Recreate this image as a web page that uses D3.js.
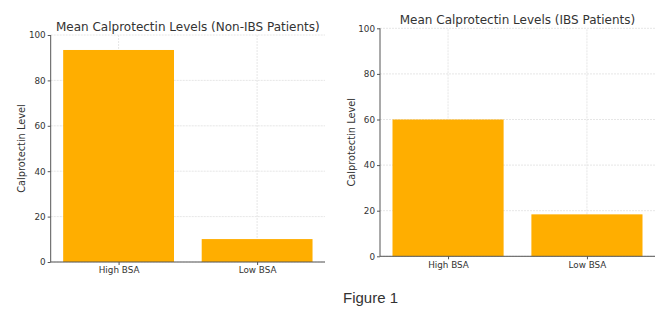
<!DOCTYPE html>
<html><head><meta charset="utf-8">
<script src="https://cdn.jsdelivr.net/npm/d3@7"></script>
<style>body{margin:0;background:#fff}svg{display:block}</style>
</head><body>
<svg id="c" width="672" height="322"></svg>
<script>
const categories = ["High BSA", "Low BSA"];
const nonIbsValues = [93.4, 10.1];
const ibsValues = [60.0, 18.4];
const yTicks = [0, 20, 40, 60, 80, 100];
const titles = ["Mean Calprotectin Levels (Non-IBS Patients)", "Mean Calprotectin Levels (IBS Patients)"];
const yLabel = "Calprotectin Level";
const caption = "Figure 1";

const svg = d3.select("#c");
const font = "DejaVu Sans, sans-serif";
const barColor = "#ffae00";

function panel(cfg, values, title) {
  const g = svg.append("g");
  const x = d3.scaleLinear().domain([-0.49, 1.49]).range([cfg.x0, cfg.x1]);
  const y = d3.scaleLinear().domain([0, 100]).range([cfg.y0, cfg.y1]);
  g.selectAll(".hg").data(yTicks).join("line")
    .attr("x1", cfg.x0).attr("x2", cfg.x1)
    .attr("y1", d => y(d)).attr("y2", d => y(d))
    .attr("stroke", "#e0e0e0").attr("stroke-width", 0.8).attr("stroke-dasharray", "2,1");
  g.selectAll(".vg").data(categories).join("line")
    .attr("x1", (d, i) => x(i)).attr("x2", (d, i) => x(i))
    .attr("y1", cfg.y0).attr("y2", cfg.y1)
    .attr("stroke", "#e0e0e0").attr("stroke-width", 0.8).attr("stroke-dasharray", "2,1");
  g.selectAll("rect").data(values).join("rect")
    .attr("x", (d, i) => x(i - 0.4)).attr("width", x(0.8) - x(0))
    .attr("y", d => y(d)).attr("height", d => y(0) - y(d))
    .attr("fill", barColor);
  const ya = d3.axisLeft(y).tickValues(yTicks).tickSize(3).tickPadding(2).tickFormat(d3.format("d"));
  const yg = g.append("g").attr("transform", `translate(${cfg.x0},0)`).call(ya);
  const xa = d3.axisBottom(x).tickValues([0, 1]).tickSize(3).tickPadding(2).tickFormat(i => categories[i]);
  const xg = g.append("g").attr("transform", `translate(0,${cfg.y0})`).call(xa);
  [yg, xg].forEach(a => {
    a.select(".domain").attr("stroke", "#555").attr("stroke-width", 1);
    a.selectAll(".tick line").attr("stroke", "#555");
    a.selectAll("text").attr("font-family", font).attr("font-size", 8.8).attr("fill", "#333");
  });
  xg.select(".domain").attr("d", `M${cfg.x0},0H${cfg.x1}`);
  yg.select(".domain").attr("d", `M0,${cfg.y0}V${cfg.y1}`);
  g.append("text").attr("x", (cfg.x0 + cfg.x1) / 2).attr("y", cfg.y1 - 4)
    .attr("text-anchor", "middle").attr("font-family", font).attr("font-size", 12)
    .attr("fill", "#333").text(title);
  g.append("text").attr("transform", `translate(${cfg.lx},${(cfg.y0 + cfg.y1) / 2}) rotate(-90)`)
    .attr("text-anchor", "middle").attr("font-family", font).attr("font-size", 9.8)
    .attr("fill", "#333").text(yLabel);
}

panel({x0: 50.7, x1: 325, y0: 262, y1: 35, lx: 25, ts: 12}, nonIbsValues, titles[0]);
panel({x0: 380, x1: 655, y0: 256.3, y1: 28.3, lx: 355, ts: 12}, ibsValues, titles[1]);

svg.append("text").attr("x", 343).attr("y", 303).attr("font-family", "Liberation Sans, Arial, sans-serif")
  .attr("font-size", 15).attr("fill", "#333").text(caption);
</script>
</body></html>
